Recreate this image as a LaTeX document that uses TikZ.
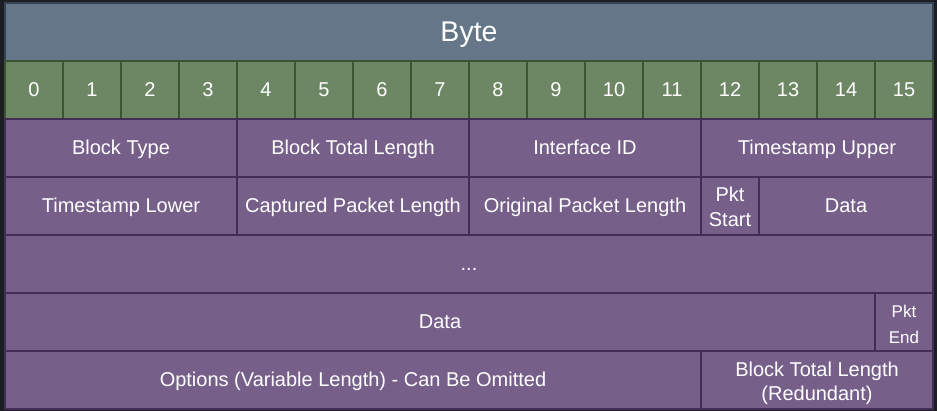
\documentclass[tikz,border=0pt]{standalone}
\usepackage{fontspec}
\setmainfont{Liberation Sans}
\usetikzlibrary{positioning}
\definecolor{bgdark}{HTML}{1C1E22}
\definecolor{headfill}{HTML}{647687}
\definecolor{headline}{HTML}{314354}
\definecolor{numfill}{HTML}{6D8764}
\definecolor{numline}{HTML}{3A5431}
\definecolor{fieldfill}{HTML}{76608A}
\definecolor{fieldline}{HTML}{432D57}
\newcommand{\cellstrut}{\vrule width 0pt height 0.95em depth 0.25em}
\newcommand{\tallstrut}[1]{\vrule width 0pt height #1em depth 0.25em}

\begin{document}
\begin{tikzpicture}[x=1pt,y=-1pt,
    cell/.style={draw, line width=1.5pt, inner sep=0pt, outer sep=0pt,
      minimum height=58pt, text=white, align=center,
      execute at begin node=\cellstrut, execute at end node=\cellstrut,
      font=\fontsize{20}{24.5}\selectfont},
    head/.style={cell, fill=headfill, draw=headline, font=\fontsize{28.5}{32}\selectfont},
    num/.style={cell, fill=numfill, draw=numline, minimum width=58pt},
    field/.style={cell, fill=fieldfill, draw=fieldline}]
					\fill[bgdark] (0,0) rectangle (937,411);
					\useasboundingbox (0,0) rectangle (937,411);
					
					\node[head, minimum width=928pt] (byte) at (469,32) {Byte};
					\foreach \i in {0,...,15}
						\node[num] (b\i) at (34+58*\i,90) {\i};
					
					\node[field, minimum width=232pt] (type) at (121,148) {Block Type};
					\node[field, minimum width=232pt] (total) at (353,148) {Block Total Length};
					\node[field, minimum width=232pt] (iface) at (585,148) {Interface ID};
					\node[field, minimum width=232pt] (tsup) at (817,148) {Timestamp Upper};
					
					\node[field, minimum width=232pt] (tslow) at (121,206) {Timestamp Lower};
					\node[field, minimum width=232pt] (caplen) at (353,206) {Captured Packet Length};
					\node[field, minimum width=232pt] (origlen) at (585,206) {Original Packet Length};
					\node[field, minimum width=58pt] (pktstart) at (730,206) {\tallstrut{1.05}Pkt\\Start};
					\node[field, minimum width=174pt] (data1) at (846,206) {Data};
					
					\node[field, minimum width=928pt] (dots) at (469,264) {...};
					
					\node[field, minimum width=870pt] (data2) at (440,322) {Data};
					\node[field, minimum width=58pt, font=\fontsize{17}{26}\selectfont] (pktend) at (904,322) {\tallstrut{1.3}Pkt\\End};
					
					\node[field, minimum width=696pt] (opts) at (353,380) {Options (Variable Length) - Can Be Omitted};
					\node[field, minimum width=232pt] (total2) at (817,380) {\tallstrut{1.1}Block Total Length\\(Redundant)};
\end{tikzpicture}
\end{document}
